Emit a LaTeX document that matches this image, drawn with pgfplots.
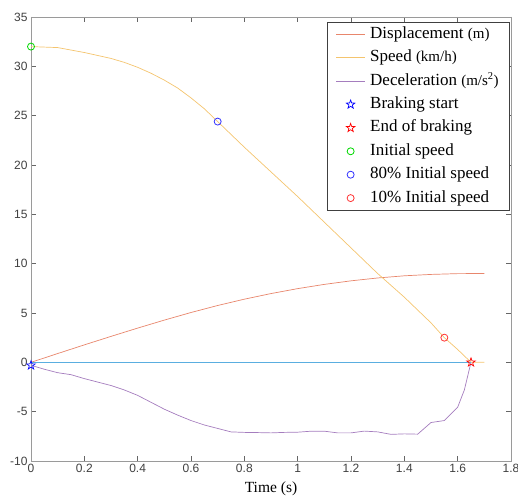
\documentclass[border=0pt]{standalone}
\usepackage{pgfplots}
\pgfplotsset{compat=1.18}
\usepackage{fontspec}
\setmainfont{Liberation Serif}
\newfontfamily\arialf{Liberation Sans}

\definecolor{dispc}{HTML}{E8866C}
\definecolor{speedc}{HTML}{F4C46E}
\definecolor{decc}{HTML}{A57DBE}
\definecolor{zeroc}{HTML}{5AAEE0}
\definecolor{axgray}{HTML}{9A9A9A}

\newcommand\unitt[1]{{\fontsize{15}{14}\selectfont #1}}

% outlined five-point star, like matlab's pentagram
\pgfdeclareplotmark{pentagram}{%
  \pgfpathmoveto{\pgfpointpolar{90}{\pgfplotmarksize}}%
  \pgfpathlineto{\pgfpointpolar{126}{0.4\pgfplotmarksize}}%
  \pgfpathlineto{\pgfpointpolar{162}{\pgfplotmarksize}}%
  \pgfpathlineto{\pgfpointpolar{198}{0.4\pgfplotmarksize}}%
  \pgfpathlineto{\pgfpointpolar{234}{\pgfplotmarksize}}%
  \pgfpathlineto{\pgfpointpolar{270}{0.4\pgfplotmarksize}}%
  \pgfpathlineto{\pgfpointpolar{306}{\pgfplotmarksize}}%
  \pgfpathlineto{\pgfpointpolar{342}{0.4\pgfplotmarksize}}%
  \pgfpathlineto{\pgfpointpolar{18}{\pgfplotmarksize}}%
  \pgfpathlineto{\pgfpointpolar{54}{0.4\pgfplotmarksize}}%
  \pgfpathclose\pgfusepathqstroke}

\begin{document}
\begin{tikzpicture}
\begin{axis}[
  name=ax,
  scale only axis,
  width=480pt, height=444pt,
  xmin=0, xmax=1.8, ymin=-10, ymax=35,
  xtick={0,0.2,0.4,0.6,0.8,1,1.2,1.4,1.6,1.8},
  ytick={-10,-5,0,5,10,15,20,25,30,35},
  tick align=inside,
  major tick length=5pt,
  axis line style={axgray, line width=0.9pt},
  every tick/.style={black!60, line width=0.6pt},
  tick label style={font=\arialf\fontsize{12}{12}\selectfont, color=black!75},
  /pgf/number format/assume math mode=true,
  xlabel={Time (s)},
  xlabel style={font=\fontsize{15.5}{16}\selectfont, yshift=-2pt},
  legend cell align=left,
  legend image code/.code={\draw[mark repeat=2,mark phase=2,#1] plot coordinates {(0cm,0cm) (0.5cm,0cm) (1cm,0cm)};},
  legend style={at={(1,1)}, anchor=north east, xshift=-1pt, yshift=-5pt,
    draw=black!75, line width=0.6pt, inner xsep=9pt, inner ysep=2pt,
    font=\fontsize{17}{18}\selectfont, row sep=3.4pt, column sep=3pt,
    nodes={text height=12pt, text depth=4pt, inner sep=2pt}},
]
% displacement (m)
\addplot[dispc, line width=0.7pt] coordinates {
  (0,0) (0.1,0.89) (0.2,1.77) (0.3,2.63) (0.4,3.47) (0.5,4.28) (0.6,5.05)
  (0.7,5.76) (0.8,6.40) (0.9,6.97) (1.0,7.47) (1.1,7.90) (1.2,8.26)
  (1.3,8.55) (1.4,8.77) (1.5,8.91) (1.6,8.99) (1.7,9.0)
};
% speed (km/h)
\addplot[speedc, line width=0.7pt] coordinates {
  (0,32) (0.1,31.9) (0.2,31.4) (0.3,30.8) (0.35,30.4) (0.4,29.9) (0.45,29.3)
  (0.5,28.6) (0.55,27.8) (0.6,26.8) (0.65,25.7) (0.7,24.4) (0.8,21.8)
  (0.9,19.3) (1.0,16.8) (1.1,14.2) (1.2,11.6) (1.3,9.0) (1.35,7.8) (1.4,6.6)
  (1.5,4.0) (1.55,2.5) (1.6,1.3) (1.65,0) (1.7,0)
};
% deceleration (m/s^2)
\addplot[decc, line width=0.7pt] coordinates {
  (0,-0.3) (0.05,-0.7) (0.1,-1.05) (0.15,-1.25) (0.2,-1.65) (0.25,-2.0)
  (0.3,-2.35) (0.35,-2.8) (0.4,-3.35) (0.45,-4.05) (0.5,-4.75) (0.55,-5.35)
  (0.6,-5.9) (0.65,-6.35) (0.7,-6.7) (0.75,-7.05) (0.8,-7.1) (0.85,-7.12)
  (0.9,-7.15) (0.95,-7.1) (1.0,-7.08) (1.05,-6.98) (1.1,-6.98) (1.15,-7.15)
  (1.2,-7.15) (1.25,-6.97) (1.3,-7.05) (1.35,-7.3) (1.4,-7.25) (1.45,-7.28)
  (1.5,-6.1) (1.55,-5.9) (1.6,-4.55) (1.625,-2.8) (1.65,0)
};
% zero line
\addplot[zeroc, line width=0.7pt, forget plot] coordinates {(0,0) (1.65,0)};
% markers
\addplot[only marks, blue, mark=pentagram, mark size=4.5pt, line width=0.7pt] coordinates {(0,-0.3)};
\addplot[only marks, red, mark=pentagram, mark size=4.5pt, line width=0.7pt] coordinates {(1.65,0)};
\addplot[only marks, green!85!black, mark=o, mark size=3.5pt, line width=0.8pt] coordinates {(0,32)};
\addplot[only marks, blue!80, mark=o, mark size=3.5pt, line width=0.8pt] coordinates {(0.7,24.4)};
\addplot[only marks, red!80, mark=o, mark size=3.5pt, line width=0.8pt] coordinates {(1.55,2.5)};
\legend{Displacement \unitt{(m)}, Speed \unitt{(km/h)}, Deceleration \unitt{(m/s\textsuperscript{2})},
  Braking start, End of braking, Initial speed, 80\% Initial speed, 10\% Initial speed}
\end{axis}
\pgfresetboundingbox
\path[use as bounding box] ([shift={(-31pt,-36pt)}]ax.south west) rectangle ([shift={(7pt,17pt)}]ax.north east);
\end{tikzpicture}
\end{document}
